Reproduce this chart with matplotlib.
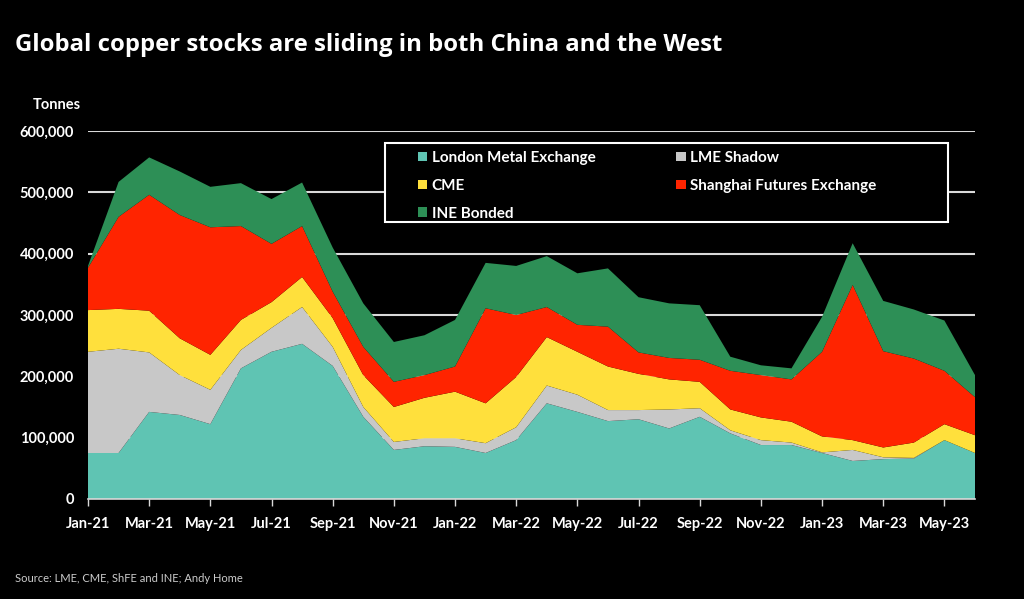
import matplotlib.pyplot as plt
import matplotlib.patches as mpatches
import numpy as np

# Monthly copper stocks, Jan-21 .. Jun-23 (thousand tonnes)
months = ["Jan-21", "Feb-21", "Mar-21", "Apr-21", "May-21", "Jun-21", "Jul-21", "Aug-21",
          "Sep-21", "Oct-21", "Nov-21", "Dec-21", "Jan-22", "Feb-22", "Mar-22", "Apr-22",
          "May-22", "Jun-22", "Jul-22", "Aug-22", "Sep-22", "Oct-22", "Nov-22", "Dec-22",
          "Jan-23", "Feb-23", "Mar-23", "Apr-23", "May-23", "Jun-23"]

lme = [75, 75, 142, 137, 122, 213, 240, 253, 217, 134, 80, 86, 85, 75, 96, 156,
       142, 127, 130, 115, 134, 107, 88, 88, 75, 62, 65, 66, 96, 75]
lme_shadow = [165, 170, 97, 65, 56, 30, 39, 60, 31, 16, 13, 13, 14, 16, 21, 29,
              28, 18, 15, 31, 14, 5, 8, 4, 1, 18, 3, 1, 0, 0]
cme = [68, 65, 68, 60, 57, 49, 42, 49, 47, 52, 57, 66, 76, 65, 82, 79,
       70, 71, 59, 49, 43, 34, 37, 34, 26, 16, 16, 25, 26, 29]
shfe = [69, 150, 189, 201, 208, 153, 95, 83, 43, 46, 41, 37, 41, 155, 101, 49,
        44, 65, 35, 35, 36, 63, 69, 69, 138, 253, 157, 137, 87, 62]
ine = [3, 57, 61, 71, 66, 70, 73, 71, 72, 71, 65, 65, 76, 74, 80, 83,
       84, 95, 90, 89, 89, 23, 16, 18, 57, 68, 82, 80, 82, 36]

series_names = ["London Metal Exchange", "LME Shadow", "CME",
                "Shanghai Futures Exchange", "INE Bonded"]
colors = ["#5fc4b3", "#c8c8c8", "#ffe03c", "#ff2400", "#2d8f56"]

font = ["Lato", "DejaVu Sans"]
plt.rcParams["font.family"] = font

x = np.arange(len(months))
stack = [np.array(s) * 1000 for s in (lme, lme_shadow, cme, shfe, ine)]

W, H = 1024, 599
fig = plt.figure(figsize=(W / 100, H / 100), dpi=100, facecolor="black")
ax = fig.add_axes([88 / W, 1 - 499 / H, (975 - 88) / W, (499 - 131) / H])
ax.set_facecolor("black")

polys = ax.stackplot(x, *stack, colors=colors, labels=series_names, zorder=3, linewidth=0)

ax.set_xlim(0, len(months) - 1)
ax.set_ylim(0, 600000)
ax.set_yticks(np.arange(0, 600001, 100000))
ax.set_yticklabels([f"{v:,}" for v in range(0, 600001, 100000)])
ax.yaxis.grid(True, color="#d9d9d9", linewidth=1.5, zorder=1)
ax.tick_params(axis="y", length=0, colors="white", labelsize=10.5, pad=10)
for lbl in ax.get_yticklabels():
    lbl.set_fontweight("bold")

ax.set_xticks(x[::2])
ax.set_xticklabels(months[::2])
ax.tick_params(axis="x", colors="#d9d9d9", labelcolor="white", labelsize=10.5,
               length=5, width=1, pad=8)
for lbl in ax.get_xticklabels():
    lbl.set_fontweight("bold")

for side in ["top", "right", "left"]:
    ax.spines[side].set_visible(False)
ax.spines["bottom"].set_color("#d9d9d9")
ax.spines["bottom"].set_linewidth(1.2)
ax.spines["bottom"].set_zorder(4)

# legend frame drawn separately so the inner padding can be wider than the outer
frame = mpatches.Rectangle((385 / W, 1 - 222 / H), (948 - 385) / W, (222 - 143) / H,
                           transform=fig.transFigure, facecolor="black",
                           edgecolor="white", linewidth=1.5, zorder=5)
fig.patches.append(frame)

order = [0, 2, 4, 1, 3]  # row-major order in a 2-column legend
leg = fig.legend([polys[i] for i in order], [series_names[i] for i in order],
                 loc="upper left", bbox_to_anchor=(418 / W, 1 - 151 / H),
                 ncol=2, frameon=False, labelcolor="white", handlelength=0.6,
                 handleheight=0.6, handletextpad=0.3, columnspacing=5.3,
                 borderpad=0, borderaxespad=0, labelspacing=0.9,
                 prop={"family": font, "size": 11, "weight": "bold"})
leg.set_zorder(6)

fig.text(15 / W, 1 - 45 / H, "Global copper stocks are sliding in both China and the West",
         color="white", fontsize=17.2, fontweight="bold", family=["Open Sans", "DejaVu Sans"],
         va="center")
fig.text(33 / W, 1 - 105 / H, "Tonnes", color="white", fontsize=10.5,
         fontweight="bold", va="center")
fig.text(15 / W, 1 - 578 / H, "Source: LME, CME, ShFE and INE; Andy Home",
         color="#cccccc", fontsize=8, va="center")

fig.savefig("out.png", dpi=100, facecolor="black")
